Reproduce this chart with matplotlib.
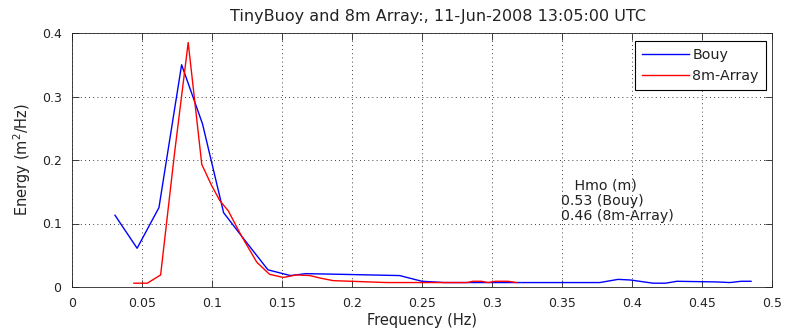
import matplotlib
matplotlib.use('Agg')
import matplotlib.pyplot as plt

plt.rcParams['font.family'] = ['DejaVu Sans']

# buoy spectrum
bouy_freq = [0.0307, 0.0465, 0.0621, 0.0783, 0.0855, 0.0932, 0.1083, 0.1240, 0.1400,
             0.1560, 0.1670, 0.1915, 0.2340, 0.2500, 0.2660, 0.3020, 0.3430, 0.3770,
             0.3900, 0.3990, 0.4150, 0.4240, 0.4320, 0.4600, 0.4700, 0.4780, 0.4850]
bouy_energy = [0.113, 0.061, 0.125, 0.350, 0.305, 0.257, 0.117, 0.072, 0.027,
               0.018, 0.021, 0.020, 0.018, 0.009, 0.007, 0.007, 0.007, 0.007,
               0.012, 0.011, 0.006, 0.006, 0.009, 0.008, 0.007, 0.009, 0.009]

# 8m array spectrum
array_freq = [0.0442, 0.0538, 0.0633, 0.0732, 0.0830, 0.0927, 0.0997, 0.1056, 0.1116,
              0.1209, 0.1320, 0.1411, 0.1509, 0.1603, 0.1699, 0.1774, 0.1865, 0.2248,
              0.2822, 0.2862, 0.2923, 0.2973, 0.3024, 0.3114, 0.3175]
array_energy = [0.006, 0.006, 0.019, 0.210, 0.385, 0.193, 0.160, 0.136, 0.120,
                0.081, 0.039, 0.020, 0.015, 0.019, 0.018, 0.014, 0.010, 0.007,
                0.007, 0.009, 0.009, 0.007, 0.009, 0.009, 0.007]

xticks = [0, 0.05, 0.1, 0.15, 0.2, 0.25, 0.3, 0.35, 0.4, 0.45, 0.5]
xticklabels = ['0', '0.05', '0.1', '0.15', '0.2', '0.25', '0.3', '0.35', '0.4', '0.45', '0.5']
yticks = [0, 0.1, 0.2, 0.3, 0.4]
yticklabels = ['0', '0.1', '0.2', '0.3', '0.4']

fig = plt.figure(figsize=(7.97, 3.33), dpi=100)
ax = fig.add_axes([72 / 797, 46 / 333, 700 / 797, 254 / 333])

ax.plot(bouy_freq, bouy_energy, color='#0000ff', lw=1.0, label='Bouy')
ax.plot(array_freq, array_energy, color='#ff0000', lw=1.0, label='8m-Array')

ax.set_xlim(0, 0.5)
ax.set_ylim(0, 0.4)
ax.set_xticks(xticks)
ax.set_xticklabels(xticklabels)
ax.set_yticks(yticks)
ax.set_yticklabels(yticklabels)
ax.tick_params(direction='in', top=True, right=True, labelsize=9, length=5,
               width=0.6, colors='#222222')
ax.tick_params(axis='x', pad=7)
ax.tick_params(axis='y', pad=7.5)
for s in ax.spines.values():
    s.set_linewidth(0.6)
    s.set_color('#222222')
ax.grid(True, color='black', linestyle=(0, (1, 4)), linewidth=0.6)

ax.set_xlabel('Frequency (Hz)', fontsize=10.5, labelpad=2, color='#222222')
ax.set_ylabel('Energy (m$^2$/Hz)', fontsize=10.5, labelpad=6, color='#222222')
ax.set_title('TinyBuoy and 8m Array:, 11-Jun-2008 13:05:00 UTC', fontsize=11.5,
             pad=8.5, x=(438 - 72) / 700, color='#222222')

ax.text(0.349, 0.136, '   Hmo (m)\n0.53 (Bouy)\n0.46 (8m-Array)', fontsize=10.2,
        ha='left', va='center', linespacing=1.1, color='#222222')

leg = ax.legend(loc='upper right', bbox_to_anchor=(694 / 700, 246 / 254),
                borderaxespad=0, fontsize=10.3, fancybox=False, framealpha=1,
                edgecolor='black', handlelength=3.3, handletextpad=0.25,
                borderpad=0.5, labelspacing=0.5)
leg.get_frame().set_linewidth(0.8)
for t in leg.get_texts():
    t.set_color('#222222')

fig.savefig('out.png', dpi=100)
